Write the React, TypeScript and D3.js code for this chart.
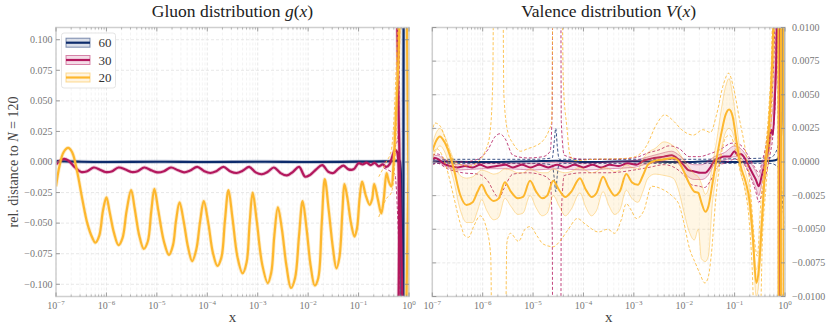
import React from "react";
import * as d3 from "d3";

type P = [number, number];
type B = [number, number, number];

// ---------- labels / categories ----------
const seriesNames = ["60", "30", "20"];
const seriesColors = ["#0d2b6b", "#b3175d", "#fdb72e"];
const xTickExps = [-7, -6, -5, -4, -3, -2, -1, 0];
const gluonYTicks = [-0.1, -0.075, -0.05, -0.025, 0, 0.025, 0.05, 0.075, 0.1];
const valenceYTicks = [-0.01, -0.0075, -0.005, -0.0025, 0, 0.0025, 0.005, 0.0075, 0.01];

// ---------- Gluon panel (x stored as log10 x) ----------
const gluon60: P[] = [
  [-7, 0.0008], [-6.9, 0.0006], [-6.5, 0.0002], [-6, 0.0], [-5, 0.0002], [-4, 0.0], [-3, 0.0002],
  [-2, 0.0], [-1, 0.0003], [-0.5, 0.0005], [-0.3, 0.0008], [-0.22, 0.0012], [-0.18, 0.0006],
  [-0.16, -0.01], [-0.14, -0.2], [-0.12, -0.3], [-0.1, 0.3], [0, 0.3],
];
const gluon30: P[] = [
  [-7.0, -0.002], [-6.92, 0.001], [-6.84, 0.0025], [-6.75, 0.001], [-6.62, -0.0045], [-6.5, -0.0082],
  [-6.38, -0.0075], [-6.25, -0.0045], [-6.12, -0.0065], [-6.02, -0.0082], [-5.9, -0.0078], [-5.76, -0.0045],
  [-5.62, -0.0062], [-5.5, -0.0082], [-5.38, -0.0075], [-5.25, -0.0045], [-5.1, -0.007], [-4.98, -0.0085],
  [-4.86, -0.0075], [-4.72, -0.0045], [-4.58, -0.0068], [-4.46, -0.0085], [-4.34, -0.007], [-4.2, -0.004],
  [-4.06, -0.0075], [-3.94, -0.009], [-3.82, -0.0075], [-3.68, -0.004], [-3.54, -0.0078], [-3.42, -0.009],
  [-3.3, -0.0072], [-3.17, -0.004], [-3.04, -0.0085], [-2.92, -0.01], [-2.8, -0.008], [-2.68, -0.0045],
  [-2.55, -0.009], [-2.42, -0.011], [-2.3, -0.008], [-2.18, -0.004], [-2.06, -0.012], [-1.96, -0.0105],
  [-1.84, -0.006], [-1.72, -0.0025], [-1.6, -0.008], [-1.5, -0.009], [-1.4, -0.0055], [-1.3, -0.003],
  [-1.2, -0.006], [-1.1, -0.006], [-1.0, -0.001], [-0.92, -0.002], [-0.84, -0.0005], [-0.76, -0.0025],
  [-0.68, -0.0008], [-0.6, -0.0035], [-0.52, -0.002], [-0.45, -0.004], [-0.38, -0.0015], [-0.32, 0.006],
  [-0.28, 0.0097], [-0.24, 0.0085], [-0.2, -0.03], [-0.16, -0.3], [-0.13, -0.3], [-0.11, 0.3], [0, 0.3],
];
const gluon20: P[] = [
  [-7.0, -0.02], [-6.93, -0.003], [-6.85, 0.008], [-6.76, 0.0115], [-6.68, 0.008], [-6.58, -0.008],
  [-6.48, -0.03], [-6.38, -0.05], [-6.28, -0.062], [-6.22, -0.066], [-6.14, -0.06], [-6.07, -0.04],
  [-6.0, -0.029], [-5.94, -0.04], [-5.85, -0.058], [-5.76, -0.068], [-5.68, -0.062], [-5.6, -0.04],
  [-5.51, -0.023], [-5.44, -0.038], [-5.35, -0.06], [-5.26, -0.071], [-5.18, -0.065], [-5.11, -0.04],
  [-5.05, -0.022], [-4.97, -0.04], [-4.86, -0.065], [-4.76, -0.076], [-4.68, -0.068], [-4.62, -0.048],
  [-4.55, -0.033], [-4.47, -0.048], [-4.38, -0.07], [-4.3, -0.081], [-4.22, -0.072], [-4.14, -0.048],
  [-4.07, -0.032], [-3.98, -0.05], [-3.89, -0.074], [-3.8, -0.085], [-3.72, -0.078], [-3.65, -0.048],
  [-3.58, -0.023], [-3.5, -0.046], [-3.4, -0.078], [-3.3, -0.091], [-3.22, -0.082], [-3.16, -0.05],
  [-3.1, -0.025], [-3.02, -0.048], [-2.91, -0.084], [-2.8, -0.099], [-2.73, -0.09], [-2.67, -0.06],
  [-2.6, -0.037], [-2.52, -0.055], [-2.43, -0.085], [-2.34, -0.103], [-2.26, -0.095], [-2.18, -0.06],
  [-2.11, -0.032], [-2.03, -0.055], [-1.95, -0.085], [-1.87, -0.101], [-1.8, -0.095], [-1.73, -0.05],
  [-1.67, -0.014], [-1.59, -0.04], [-1.51, -0.07], [-1.44, -0.087], [-1.38, -0.078], [-1.32, -0.04],
  [-1.28, -0.018], [-1.22, -0.03], [-1.15, -0.05], [-1.08, -0.061], [-1.03, -0.054], [-0.98, -0.03],
  [-0.93, -0.016], [-0.86, -0.027], [-0.78, -0.035], [-0.73, -0.03], [-0.69, -0.018], [-0.62, -0.03],
  [-0.55, -0.042], [-0.5, -0.03], [-0.445, -0.009], [-0.4, -0.016], [-0.35, -0.02], [-0.31, -0.004],
  [-0.27, 0.029], [-0.21, 0.083], [-0.18, 0.13], [-0.14, 0.3], [-0.07, 0.3], [-0.05, -0.3],
  [-0.03, -0.3], [-0.015, 0.3], [0, 0.3],
];
const gluon30DashHi: P[] = [[-0.5, 0.0], [-0.35, 0.002], [-0.28, 0.012], [-0.22, 0.02], [-0.18, 0.12]];
const gluon30DashLo: P[] = [[-0.5, -0.005], [-0.35, -0.008], [-0.28, -0.01], [-0.22, -0.05], [-0.17, -0.12]];
const gluon20DashHi: P[] = [[-0.6, -0.012], [-0.45, 0.0], [-0.35, 0.01], [-0.28, 0.05], [-0.22, 0.12]];
const gluon20DashLo: P[] = [[-0.6, -0.045], [-0.45, -0.03], [-0.35, -0.025], [-0.28, 0.0], [-0.2, 0.11]];

// ---------- Valence panel ----------
const valence60: P[] = [
  [-7, 0.00005], [-6, 0.0], [-5, 0.00005], [-4.55, 0.0001], [-4, 0.0], [-3, 0.00005], [-2, 0.0],
  [-1.5, 0.00005], [-1, 0.0], [-0.5, 0.00005], [-0.25, 0.0001], [-0.15, 0.0002], [-0.1, 0.0007],
  [-0.07, 0.003], [-0.05, 0.05], [-0.03, 0.05], [-0.01, 0.0], [0, -0.0026],
];
const valence60DashHi: P[] = [
  [-7, 0.0002], [-5, 0.0002], [-4.62, 0.0003], [-4.58, 0.0015], [-4.55, 0.0025], [-4.52, 0.0012],
  [-4.48, 0.0002], [-2, 0.0002], [-0.3, 0.0003], [-0.15, 0.001], [-0.08, 0.004], [-0.05, 0.05],
];
const valence60DashLo: P[] = [
  [-7, -0.0001], [-5, -0.0001], [-4.62, -0.0002], [-4.58, -0.0012], [-4.55, -0.0022], [-4.52, -0.001],
  [-4.48, -0.0001], [-2, -0.0001], [-0.3, -0.0001], [-0.1, -0.0005], [-0.05, -0.003], [0, -0.005],
];
const valence30: P[] = [
  [-7.0, 0.0002], [-6.95, 0.0003], [-6.88, 0.0002], [-6.78, -0.0001], [-6.65, -0.0003], [-6.5, -0.0004],
  [-6.35, -0.0003], [-6.2, -0.0004], [-6.05, -0.0002], [-5.9, -0.0004], [-5.72, -0.0003], [-5.55, -0.0002],
  [-5.4, -0.0004], [-5.22, -0.0002], [-5.05, -0.0004], [-4.88, -0.0002], [-4.7, -0.0004], [-4.52, -0.0002],
  [-4.35, -0.0004], [-4.18, -0.0002], [-4.0, -0.0004], [-3.82, -0.0002], [-3.65, -0.0004], [-3.48, -0.0002],
  [-3.3, -0.0003], [-3.12, -0.0001], [-2.95, -0.0002], [-2.8, 0.0001], [-2.6, 0.0003], [-2.4, 0.0004],
  [-2.25, 0.0005], [-2.12, 0.0002], [-2.02, -0.0002], [-1.92, -0.0006], [-1.8, -0.0007], [-1.68, -0.0008],
  [-1.58, -0.0008], [-1.5, -0.0005], [-1.4, 0.0001], [-1.3, 0.0003], [-1.2, 0.0004], [-1.1, 0.0004],
  [-1.0, 0.0008], [-0.94, 0.0005], [-0.88, 0.0006], [-0.8, 0.0003], [-0.72, -0.0003], [-0.65, -0.0008],
  [-0.58, -0.0013], [-0.52, -0.0018], [-0.46, -0.001], [-0.4, -0.0001], [-0.34, 0.0008], [-0.27, 0.0024],
  [-0.24, 0.002], [-0.2, 0.0049], [-0.16, 0.01], [-0.13, 0.05], [-0.1, -0.05], [-0.07, 0.2], [0, 0.2],
];
const valence30Band: B[] = [
  [-7.0, 0.0, 0.0004], [-6.9, 0.0, 0.0005], [-6.75, -0.0003, 0.0001], [-6.5, -0.0006, -0.0002],
  [-6.0, -0.0005, -0.0001], [-5.5, -0.0005, -0.0001], [-5.0, -0.0006, -0.0001], [-4.5, -0.0005, 0.0],
  [-4.0, -0.0006, -0.0001], [-3.5, -0.0005, 0.0], [-3.0, -0.0004, 0.0001], [-2.8, -0.0002, 0.0003],
  [-2.5, 0.0, 0.0006], [-2.25, 0.0002, 0.0008], [-2.1, -0.0002, 0.0005], [-1.95, -0.001, 0.0],
  [-1.8, -0.0013, -0.0002], [-1.65, -0.0013, -0.0002], [-1.55, -0.0011, 0.0], [-1.4, -0.0002, 0.0004],
  [-1.2, 0.0001, 0.0007], [-1.0, 0.0004, 0.0012], [-0.88, 0.0003, 0.001], [-0.72, -0.0007, 0.0002],
  [-0.58, -0.0019, -0.0007], [-0.52, -0.0025, -0.0011], [-0.46, -0.0016, -0.0004], [-0.4, -0.0006, 0.0004],
  [-0.34, 0.0003, 0.0014], [-0.27, 0.0018, 0.0032], [-0.22, 0.003, 0.005], [-0.18, 0.006, 0.01],
  [-0.15, 0.011, 0.015],
];
const valence30DashHi: P[] = [
  [-7.0, 0.0005], [-6.9, 0.0006], [-6.7, 0.0001], [-6.4, 0.0], [-6.1, 0.0002], [-5.9, 0.0009],
  [-5.75, 0.0019], [-5.66, 0.0021], [-5.55, 0.0017], [-5.4, 0.0005], [-5.1, 0.0003], [-4.8, 0.0004],
  [-4.66, 0.0008], [-4.62, 0.004], [-4.6, 0.03], [-4.46, 0.03], [-4.44, 0.003], [-4.38, 0.0005],
  [-4.0, 0.0002], [-3.5, 0.0002], [-3.0, 0.0003], [-2.7, 0.0007], [-2.5, 0.0009], [-2.3, 0.0012],
  [-2.1, 0.001], [-1.9, 0.0004], [-1.7, 0.0004], [-1.5, 0.0006], [-1.3, 0.0009], [-1.05, 0.0014],
  [-0.9, 0.0013], [-0.75, 0.0006], [-0.6, -0.0004], [-0.52, -0.0008], [-0.45, 0.0001], [-0.38, 0.0012],
  [-0.3, 0.0035], [-0.24, 0.006], [-0.2, 0.011], [-0.16, 0.05],
];
const valence30DashLo: P[] = [
  [-7.0, -0.0002], [-6.9, -0.0001], [-6.7, -0.0005], [-6.4, -0.0008], [-6.1, -0.0009], [-5.9, -0.0014],
  [-5.75, -0.0024], [-5.68, -0.0027], [-5.58, -0.002], [-5.4, -0.0009], [-5.1, -0.0008], [-4.8, -0.001],
  [-4.66, -0.0014], [-4.62, -0.005], [-4.6, -0.03], [-4.46, -0.03], [-4.44, -0.004], [-4.38, -0.001],
  [-4.0, -0.0008], [-3.5, -0.0008], [-3.0, -0.0006], [-2.7, -0.0004], [-2.4, -0.0002], [-2.2, -0.0004],
  [-2.0, -0.001], [-1.85, -0.0017], [-1.7, -0.0018], [-1.6, -0.0019], [-1.48, -0.0014], [-1.35, -0.0004],
  [-1.15, 0.0], [-1.0, 0.0002], [-0.85, 0.0], [-0.7, -0.001], [-0.58, -0.0022], [-0.52, -0.003],
  [-0.45, -0.0022], [-0.38, -0.001], [-0.3, 0.0005], [-0.24, 0.002], [-0.19, 0.005], [-0.15, 0.02],
  [-0.12, -0.05],
];
const valence20: P[] = [
  [-7.0, 0.0008], [-6.92, 0.0016], [-6.85, 0.0019], [-6.76, 0.0015], [-6.66, 0.0006], [-6.58, -0.0004],
  [-6.45, -0.0024], [-6.32, -0.0032], [-6.2, -0.003], [-6.1, -0.0022], [-6.02, -0.0017], [-5.92, -0.0024],
  [-5.78, -0.0029], [-5.68, -0.0027], [-5.56, -0.0015], [-5.44, -0.0022], [-5.3, -0.0027], [-5.2, -0.0026],
  [-5.06, -0.0014], [-4.94, -0.0022], [-4.82, -0.0027], [-4.72, -0.0025], [-4.6, -0.0014], [-4.48, -0.0021],
  [-4.36, -0.0026], [-4.24, -0.0022], [-4.07, -0.0012], [-3.96, -0.002], [-3.84, -0.0026], [-3.74, -0.0023],
  [-3.61, -0.0011], [-3.5, -0.0019], [-3.38, -0.0025], [-3.28, -0.0022], [-3.15, -0.0009], [-3.04, -0.0015],
  [-2.92, -0.0017], [-2.82, -0.001], [-2.72, -0.0002], [-2.58, 0.0001], [-2.4, 0.0002], [-2.22, 0.0003],
  [-2.12, 0.0001], [-2.02, -0.0006], [-1.9, -0.0016], [-1.8, -0.0022], [-1.72, -0.0023], [-1.66, -0.003],
  [-1.58, -0.0037], [-1.52, -0.0033], [-1.44, -0.0016], [-1.36, 0.0002], [-1.26, 0.0022], [-1.18, 0.0035],
  [-1.11, 0.0039], [-1.04, 0.0034], [-0.96, 0.0015], [-0.88, -0.0003], [-0.78, -0.0015], [-0.7, -0.003],
  [-0.64, -0.0055], [-0.57, -0.009], [-0.52, -0.008], [-0.46, -0.0045], [-0.4, -0.0008], [-0.33, 0.002],
  [-0.27, 0.006], [-0.23, 0.011], [-0.18, 0.03], [-0.14, 0.1], [-0.12, -0.1], [-0.09, -0.2],
  [-0.07, 0.2], [-0.04, 0.2], [-0.02, -0.2], [0, -0.2],
];
const valence20Band: B[] = [
  [-7.0, 0.0002, 0.0013], [-6.92, 0.0009, 0.0022], [-6.85, 0.0012, 0.0025], [-6.76, 0.0008, 0.002],
  [-6.66, -0.0003, 0.001], [-6.58, -0.0013, 0.0002], [-6.45, -0.0035, -0.001], [-6.32, -0.0045, -0.0012],
  [-6.2, -0.0045, -0.0011], [-6.1, -0.0036, -0.0008], [-6.02, -0.0028, -0.0006], [-5.92, -0.0036, -0.0007],
  [-5.78, -0.0043, -0.0009], [-5.68, -0.0041, -0.0008], [-5.56, -0.0027, -0.0005], [-5.44, -0.0033, -0.0006],
  [-5.3, -0.0039, -0.0008], [-5.2, -0.0038, -0.0008], [-5.06, -0.0025, -0.0005], [-4.94, -0.0034, -0.0007],
  [-4.82, -0.004, -0.0008], [-4.72, -0.0038, -0.0008], [-4.6, -0.0025, -0.0005], [-4.48, -0.0033, -0.0007],
  [-4.36, -0.004, -0.0008], [-4.24, -0.0035, -0.0007], [-4.07, -0.0023, -0.0004], [-3.96, -0.0033, -0.0006],
  [-3.84, -0.004, -0.0008], [-3.74, -0.0036, -0.0007], [-3.61, -0.0022, -0.0004], [-3.5, -0.0032, -0.0005],
  [-3.38, -0.0039, -0.0007], [-3.28, -0.0036, -0.0006], [-3.15, -0.0021, -0.0002], [-3.04, -0.0027, -0.0004],
  [-2.92, -0.003, -0.0005], [-2.82, -0.0022, 0.0002], [-2.72, -0.0012, 0.0007], [-2.58, -0.0009, 0.001],
  [-2.4, -0.001, 0.0015], [-2.22, -0.0012, 0.0012], [-2.12, -0.002, 0.0008], [-2.02, -0.0035, 0.0002],
  [-1.9, -0.0052, -0.0004], [-1.8, -0.0058, -0.0009], [-1.72, -0.005, -0.0011], [-1.66, -0.0072, -0.0016],
  [-1.58, -0.0074, -0.0024], [-1.52, -0.007, -0.002], [-1.44, -0.003, -0.0002], [-1.36, -0.001, 0.0015],
  [-1.26, 0.001, 0.004], [-1.18, 0.0022, 0.0056], [-1.11, 0.0025, 0.0062], [-1.04, 0.0022, 0.005],
  [-0.96, 0.0009, 0.0028], [-0.88, -0.0008, 0.0005], [-0.78, -0.0021, -0.0008], [-0.7, -0.0037, -0.0022],
  [-0.64, -0.0063, -0.0047], [-0.57, -0.01, -0.008], [-0.52, -0.009, -0.007], [-0.46, -0.0055, -0.0035],
  [-0.4, -0.0016, 0.0], [-0.33, 0.0012, 0.003], [-0.27, 0.005, 0.007], [-0.23, 0.0095, 0.0125],
  [-0.18, 0.025, 0.035],
];
const valence20DashHi: P[] = [
  [-7.0, 0.0022], [-6.95, 0.0029], [-6.85, 0.0027], [-6.72, 0.0015], [-6.62, 0.0004], [-6.45, -0.0002],
  [-6.25, -0.0003], [-6.1, 0.0], [-5.95, 0.0008], [-5.86, 0.002], [-5.8, 0.006], [-5.76, 0.03],
  [-5.62, 0.03], [-5.58, 0.005], [-5.5, 0.0022], [-5.4, 0.0014], [-5.25, 0.0008], [-5.1, 0.001],
  [-4.95, 0.0012], [-4.8, 0.0016], [-4.68, 0.0024], [-4.63, 0.003], [-4.58, 0.03], [-4.47, 0.03],
  [-4.4, 0.006], [-4.33, 0.0026], [-4.27, 0.0006], [-4.17, 0.0001], [-3.8, 0.0002], [-3.24, 0.00025],
  [-2.97, 0.0004], [-2.75, 0.0012], [-2.55, 0.0028], [-2.39, 0.0035], [-2.2, 0.003], [-2.05, 0.0024],
  [-1.82, 0.002], [-1.63, 0.0024], [-1.48, 0.0022], [-1.36, 0.0035], [-1.22, 0.0058], [-1.12, 0.0066],
  [-1.02, 0.0055], [-0.9, 0.0031], [-0.8, 0.0012], [-0.7, -0.0015], [-0.6, -0.006], [-0.55, -0.007],
  [-0.48, -0.003], [-0.4, 0.0005], [-0.32, 0.004], [-0.26, 0.009], [-0.22, 0.02], [-0.15, 0.1],
];
const valence20DashLo: P[] = [
  [-7.0, 0.0004], [-6.92, 0.001], [-6.85, 0.0008], [-6.72, -0.0004], [-6.58, -0.0025], [-6.45, -0.0045],
  [-6.35, -0.0055], [-6.28, -0.0056], [-6.18, -0.0048], [-6.05, -0.004], [-5.92, -0.005], [-5.84, -0.007],
  [-5.79, -0.03], [-5.58, -0.03], [-5.52, -0.006], [-5.45, -0.0053], [-5.29, -0.0059], [-5.16, -0.005],
  [-5.06, -0.0048], [-4.92, -0.0055], [-4.8, -0.0061], [-4.6, -0.0063], [-4.45, -0.0058], [-4.3, -0.005],
  [-4.12, -0.0042], [-3.97, -0.0046], [-3.7, -0.0052], [-3.52, -0.005], [-3.38, -0.0053], [-3.25, -0.0043],
  [-3.15, -0.0031], [-3.05, -0.0036], [-2.95, -0.0042], [-2.8, -0.0036], [-2.65, -0.0018], [-2.45, -0.002],
  [-2.25, -0.0025], [-2.1, -0.0032], [-2.02, -0.0043], [-1.89, -0.0065], [-1.78, -0.0075], [-1.69, -0.0083],
  [-1.59, -0.009], [-1.52, -0.0085], [-1.46, -0.0068], [-1.38, -0.003], [-1.28, 0.0002], [-1.18, 0.0018],
  [-1.1, 0.002], [-1.0, 0.0012], [-0.9, -0.0005], [-0.8, -0.002], [-0.72, -0.004], [-0.65, -0.008],
  [-0.6, -0.013], [-0.5, -0.013], [-0.45, -0.006], [-0.38, -0.002], [-0.3, 0.0015], [-0.25, 0.005],
  [-0.2, 0.012], [-0.15, 0.1],
];

// ---------- layout ----------
const W = 830, H = 332;
const TOP = 27.5, BOTTOM = 296.5;
const SERIF = "'Liberation Serif', 'Times New Roman', serif";
const GRID = "#e2e2e2";
const TICKC = "#8a8a8a";

type SeriesDef = {
  mid: P[]; band?: B[]; halo?: boolean; dashHi?: P[]; dashLo?: P[]; width: number; sharp?: boolean;
};

function Panel(props: {
  id: string; x0: number; x1: number; yDomain: [number, number]; yTicks: number[];
  fmt: (v: number) => string; labelSide: "left" | "right"; title: React.ReactNode; series: SeriesDef[];
}) {
  const { id, x0, x1, yDomain, yTicks, fmt, labelSide, title, series } = props;
  const xs = d3.scaleLog().domain([1e-7, 1]).range([x0, x1]);
  const ys = d3.scaleLinear().domain(yDomain).range([BOTTOM, TOP]);
  const X = (l: number) => xs(Math.pow(10, l));
  const line = d3.line<P>().x(d => X(d[0])).y(d => ys(d[1])).curve(d3.curveMonotoneX);
  const sharpLine = d3.line<P>().x(d => X(d[0])).y(d => ys(d[1])).curve(d3.curveCatmullRom.alpha(0.5));
  const area = d3.area<B>().x(d => X(d[0])).y0(d => ys(d[1])).y1(d => ys(d[2])).curve(d3.curveMonotoneX);
  const lineLo = d3.line<B>().x(d => X(d[0])).y(d => ys(d[1])).curve(d3.curveMonotoneX);
  const lineHi = d3.line<B>().x(d => X(d[0])).y(d => ys(d[2])).curve(d3.curveMonotoneX);

  const minor: number[] = [];
  for (let e = -7; e < 0; e++) for (let m = 2; m <= 9; m++) minor.push(m * Math.pow(10, e));
  const major = xTickExps.map(e => Math.pow(10, e));
  const cx = (x0 + x1) / 2;

  return (
    <g>
      <defs>
        <clipPath id={`clip-${id}`}>
          <rect x={x0} y={TOP} width={x1 - x0} height={BOTTOM - TOP} />
        </clipPath>
      </defs>
      {minor.map((v, i) => (
        <line key={`mg${i}`} x1={xs(v)} x2={xs(v)} y1={TOP} y2={BOTTOM} stroke="#ececec" strokeWidth={0.6} strokeDasharray="3,2" />
      ))}
      {major.map((v, i) => (
        <line key={`Mg${i}`} x1={xs(v)} x2={xs(v)} y1={TOP} y2={BOTTOM} stroke={GRID} strokeWidth={0.8} strokeDasharray="3,2" />
      ))}
      {yTicks.map((v, i) => (
        <line key={`yg${i}`} x1={x0} x2={x1} y1={ys(v)} y2={ys(v)} stroke={GRID} strokeWidth={0.8} strokeDasharray="3,2" />
      ))}
      <g clipPath={`url(#clip-${id})`}>
        {series.map((s, i) => {
          const c = seriesColors[i];
          const midPath = (s.sharp ? sharpLine(s.mid) : line(s.mid)) || "";
          return (
            <g key={i}>
              {s.band && <path d={area(s.band) || ""} fill={c} fillOpacity={0.13} stroke="none" />}
              {s.band && <path d={lineLo(s.band) || ""} fill="none" stroke={c} strokeOpacity={0.4} strokeWidth={1} />}
              {s.band && <path d={lineHi(s.band) || ""} fill="none" stroke={c} strokeOpacity={0.4} strokeWidth={1} />}
              {s.dashHi && <path d={line(s.dashHi) || ""} fill="none" stroke={c} strokeOpacity={0.8} strokeWidth={1} strokeDasharray="3,2" />}
              {s.dashLo && <path d={line(s.dashLo) || ""} fill="none" stroke={c} strokeOpacity={0.8} strokeWidth={1} strokeDasharray="3,2" />}
              {s.halo && <path d={midPath} fill="none" stroke={c} strokeOpacity={0.25} strokeWidth={3.8} />}
              <path d={midPath} fill="none" stroke={c} strokeWidth={s.width} strokeLinejoin="round" />
            </g>
          );
        })}
      </g>
      <rect x={x0} y={TOP} width={x1 - x0} height={BOTTOM - TOP} fill="none" stroke="#cfcfcf" strokeWidth={1.5} />
      {major.map((v, i) => (
        <g key={`xt${i}`}>
          <line x1={xs(v)} x2={xs(v)} y1={BOTTOM} y2={BOTTOM - 4} stroke={TICKC} strokeWidth={0.8} />
          <line x1={xs(v)} x2={xs(v)} y1={TOP} y2={TOP + 4} stroke={TICKC} strokeWidth={0.8} />
          <text x={xs(v)} y={309} textAnchor="middle" fontFamily={SERIF} fontSize={10} fill="#777">
            10<tspan dy={-4} fontSize={7}>{xTickExps[i] === 0 ? "0" : `−${-xTickExps[i]}`}</tspan>
          </text>
        </g>
      ))}
      {minor.map((v, i) => (
        <g key={`mt${i}`}>
          <line x1={xs(v)} x2={xs(v)} y1={BOTTOM} y2={BOTTOM - 2} stroke={TICKC} strokeWidth={0.6} />
          <line x1={xs(v)} x2={xs(v)} y1={TOP} y2={TOP + 2} stroke={TICKC} strokeWidth={0.6} />
        </g>
      ))}
      {yTicks.map((v, i) => (
        <g key={`yt${i}`}>
          <line x1={x0} x2={x0 + 4} y1={ys(v)} y2={ys(v)} stroke={TICKC} strokeWidth={0.8} />
          <line x1={x1} x2={x1 - 4} y1={ys(v)} y2={ys(v)} stroke={TICKC} strokeWidth={0.8} />
          {labelSide === "left" ? (
            <text x={x0 - 3.5} y={ys(v) + 3.3} textAnchor="end" fontFamily={SERIF} fontSize={10} fill="#777">{fmt(v)}</text>
          ) : (
            <text x={x1 + 7} y={ys(v) + 3} textAnchor="start" fontFamily={SERIF} fontSize={10} fill="#777">{fmt(v)}</text>
          )}
        </g>
      ))}
      <text x={cx} y={17} textAnchor="middle" fontFamily={SERIF} fontSize={17.5} fill="#222">{title}</text>
      <text x={cx} y={322} textAnchor="middle" fontFamily={SERIF} fontSize={15} fill="#444">x</text>
    </g>
  );
}

export default function App() {
  const fmtG = (v: number) => d3.format(".3f")(v).replace("-", "−");
  const fmtV = (v: number) => d3.format(".4f")(v).replace("-", "−");
  const gluonSeries: SeriesDef[] = [
    { mid: gluon60, halo: true, width: 2.2 },
    { mid: gluon30, halo: true, width: 2.2, dashHi: gluon30DashHi, dashLo: gluon30DashLo, sharp: true },
    { mid: gluon20, halo: true, width: 2.2, dashHi: gluon20DashHi, dashLo: gluon20DashLo, sharp: true },
  ];
  const valenceSeries: SeriesDef[] = [
    { mid: valence60, width: 2, dashHi: valence60DashHi, dashLo: valence60DashLo },
    { mid: valence30, band: valence30Band, width: 2, dashHi: valence30DashHi, dashLo: valence30DashLo },
    { mid: valence20, band: valence20Band, width: 2, dashHi: valence20DashHi, dashLo: valence20DashLo },
  ];
  const legendRows = [42.7, 60, 77.5];
  return (
    <svg width={W} height={H} style={{ position: "absolute", left: 0, top: 0, background: "#fff" }}>
      <rect x={0} y={0} width={W} height={H} fill="#fff" />
      <Panel id="g" x0={56} x1={409} yDomain={[-0.11, 0.11]} yTicks={gluonYTicks} fmt={fmtG} labelSide="left"
        title={<>Gluon distribution <tspan fontStyle="italic">g</tspan>(<tspan fontStyle="italic">x</tspan>)</>}
        series={gluonSeries} />
      <Panel id="v" x0={432.3} x1={785} yDomain={[-0.01, 0.01]} yTicks={valenceYTicks} fmt={fmtV} labelSide="right"
        title={<>Valence distribution <tspan fontStyle="italic">V</tspan>(<tspan fontStyle="italic">x</tspan>)</>}
        series={valenceSeries} />
      <text transform="translate(17.5,162) rotate(-90)" textAnchor="middle" fontFamily={SERIF} fontSize={14} fill="#444">
        rel. distance to <tspan fontStyle="italic">N</tspan> = 120
      </text>
      <rect x={61.5} y={33} width={54} height={55} rx={2.5} fill="#fff" fillOpacity={0.85} stroke="#dedede" strokeWidth={0.8} />
      {seriesNames.map((n, i) => (
        <g key={n}>
          <rect x={66} y={legendRows[i] - 4.5} width={24} height={9} fill={seriesColors[i]} fillOpacity={0.15}
            stroke={seriesColors[i]} strokeOpacity={0.5} strokeWidth={1} />
          <line x1={66} x2={90} y1={legendRows[i]} y2={legendRows[i]} stroke={seriesColors[i]} strokeWidth={2.2} />
          <text x={98.5} y={legendRows[i] + 4.5} fontFamily={SERIF} fontSize={13} fill="#333">{n}</text>
        </g>
      ))}
    </svg>
  );
}
